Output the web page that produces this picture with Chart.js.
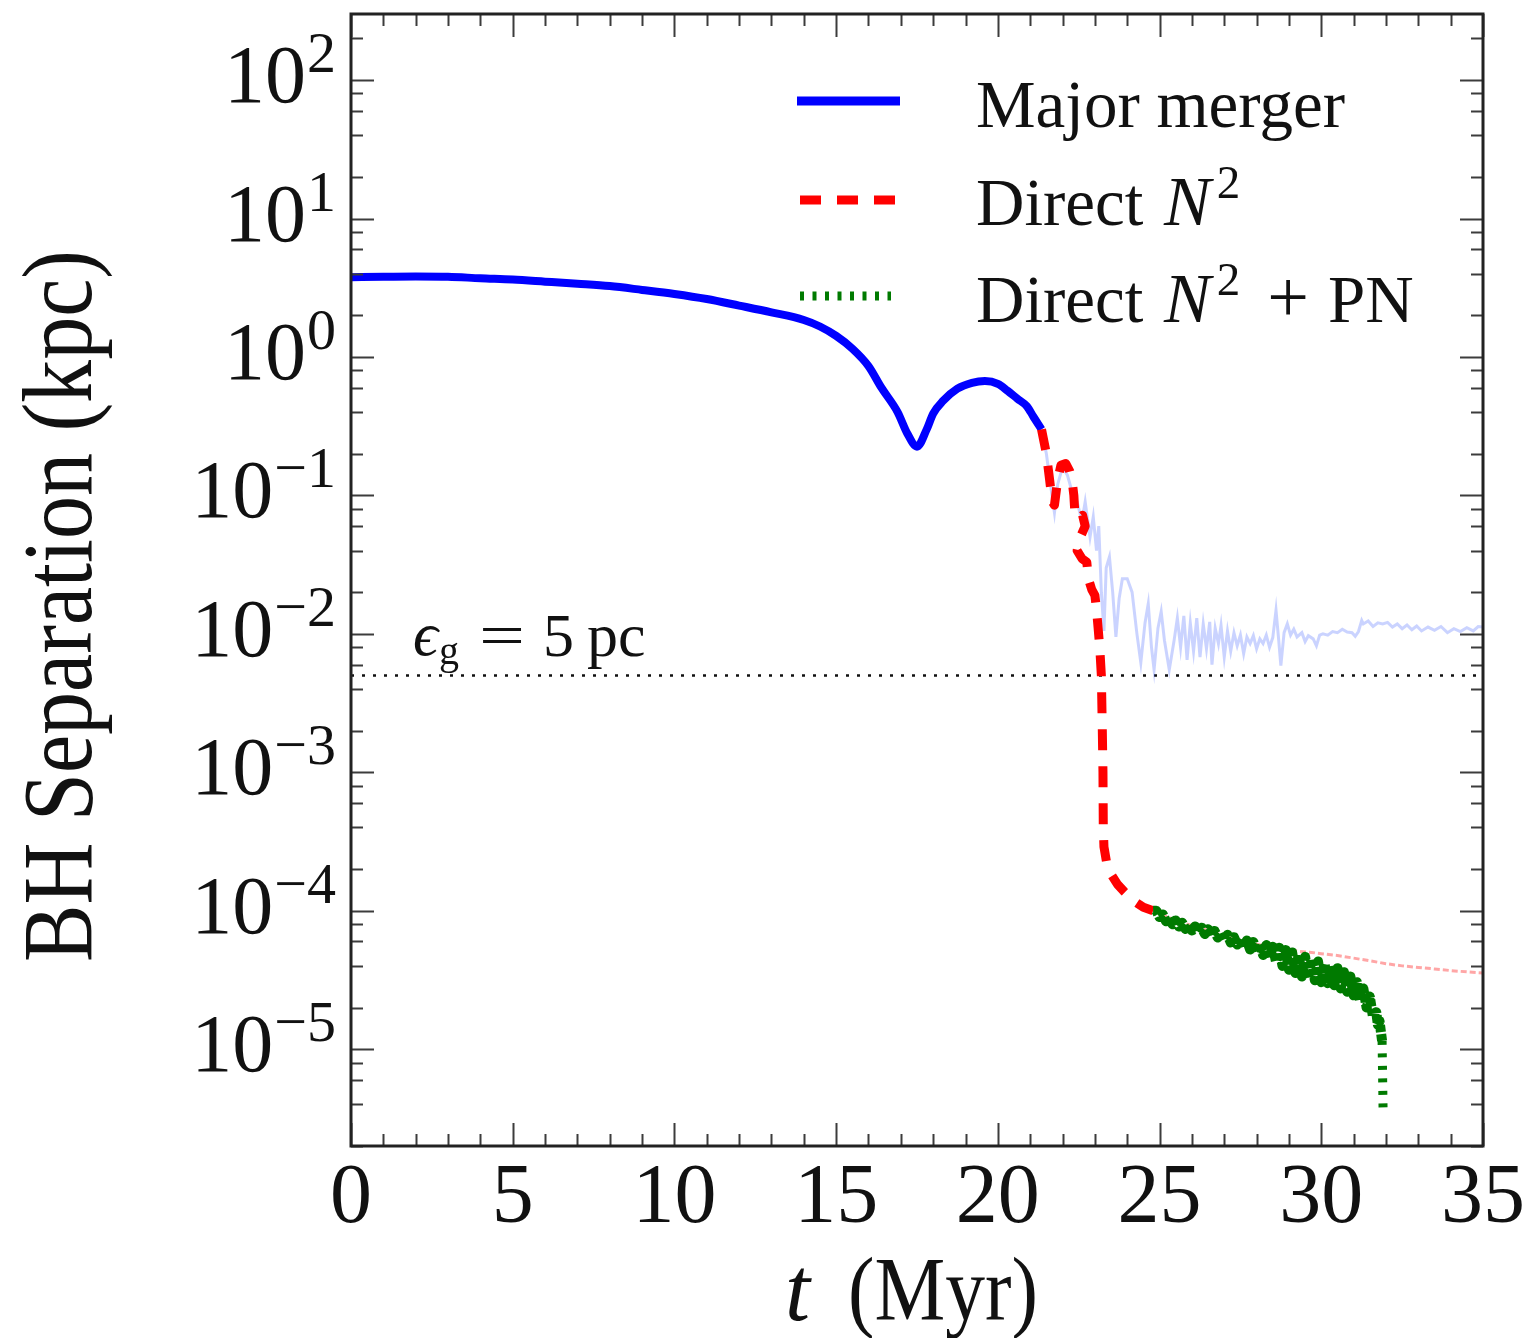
<!DOCTYPE html>
<html><head><meta charset="utf-8">
<script src="https://cdn.jsdelivr.net/npm/chart.js@4.4.1/dist/chart.umd.min.js"></script>
<style>html,body{margin:0;padding:0;background:#fff;}canvas{display:block;}</style>
</head><body>
<canvas id="c" width="1530" height="1338"></canvas>
<script>
// ---------- data ----------
const seriesNames = ['Major merger', 'Direct N\u00b2', 'Direct N\u00b2 + PN'];

const majorT = [0, 1, 2, 3, 4, 5, 6, 7, 8, 9, 10, 11, 12, 13, 14, 14.5, 15, 15.5, 16, 16.4, 16.9, 17.2, 17.5, 17.8, 18.0, 18.3, 18.75, 19.2, 19.6, 20.0, 20.3, 20.6, 20.9, 21.1, 21.35];
const majorV = [3.76, 3.8, 3.82, 3.8, 3.7, 3.62, 3.5, 3.38, 3.25, 3.05, 2.85, 2.62, 2.35, 2.1, 1.85, 1.66, 1.42, 1.15, 0.86, 0.6, 0.4, 0.28, 0.225, 0.3, 0.39, 0.48, 0.59, 0.65, 0.67, 0.64, 0.57, 0.5, 0.44, 0.37, 0.3];

const majorTailT = [21.35, 21.5, 21.65, 21.75, 21.85, 22.0, 22.15, 22.3, 22.45, 22.6, 22.7, 22.85, 22.95, 23.05, 23.12, 23.2, 23.28, 23.35, 23.45, 23.55, 23.65, 23.75, 23.85, 24.0, 24.15, 24.3, 24.42, 24.55, 24.65, 24.75, 24.83, 24.95, 25.05, 25.15, 25.3, 25.45, 25.55, 25.65, 25.75, 25.85, 25.95, 26.05, 26.15, 26.25, 26.35, 26.45, 26.55, 26.62, 26.72, 26.82, 26.9, 27.0, 27.1, 27.2, 27.3, 27.4, 27.5, 27.6, 27.7, 27.8, 27.9, 28.0, 28.1, 28.2, 28.3, 28.4, 28.5, 28.6, 28.68, 28.75, 28.85, 28.95, 29.05, 29.15, 29.25, 29.4, 29.5, 29.6, 29.75, 29.85, 29.95, 30.05, 30.2, 30.35, 30.5, 30.65, 30.8, 30.95, 31.05, 31.15, 31.25, 31.3, 31.45, 31.6, 31.75, 31.9, 32.05, 32.2, 32.35, 32.5, 32.65, 32.8, 32.95, 33.1, 33.3, 33.5, 33.7, 33.9, 34.1, 34.3, 34.5, 34.7, 34.85, 35.0];
const majorTailV = [0.3, 0.2, 0.11, 0.075, 0.12, 0.16, 0.14, 0.105, 0.09, 0.065, 0.09, 0.05, 0.07, 0.04, 0.06, 0.02, 0.0105, 0.03, 0.036, 0.02, 0.0095, 0.018, 0.025, 0.025, 0.02, 0.01, 0.0062, 0.012, 0.0165, 0.008, 0.0055, 0.011, 0.0145, 0.009, 0.0055, 0.009, 0.013, 0.008, 0.0135, 0.0065, 0.012, 0.0075, 0.013, 0.0068, 0.0118, 0.0078, 0.0122, 0.006, 0.011, 0.0085, 0.0115, 0.0068, 0.0105, 0.0075, 0.0102, 0.0082, 0.0098, 0.0072, 0.0095, 0.0085, 0.0097, 0.0078, 0.0092, 0.0085, 0.0098, 0.008, 0.0094, 0.0148, 0.0092, 0.0059, 0.0102, 0.0118, 0.0098, 0.0108, 0.0095, 0.0102, 0.0088, 0.0097, 0.0092, 0.0082, 0.0098, 0.01, 0.0098, 0.0104, 0.0102, 0.0108, 0.0103, 0.0102, 0.0096, 0.0104, 0.0125, 0.0118, 0.0124, 0.0113, 0.012, 0.0118, 0.0121, 0.0112, 0.0118, 0.0109, 0.0116, 0.0107, 0.0114, 0.0105, 0.0112, 0.0106, 0.0113, 0.0102, 0.0109, 0.0104, 0.0111, 0.0105, 0.0113, 0.0112];

const directT = [21.35, 21.5, 21.6, 21.68, 21.75, 21.85, 21.95, 22.1, 22.22, 22.3, 22.35, 22.38, 22.5, 22.62, 22.7, 22.55, 22.45, 22.6, 22.75, 22.8, 22.9, 23.0, 23.05, 23.1, 23.15, 23.2, 23.23, 23.25, 23.26, 23.28, 23.36, 23.48, 23.7, 23.9, 24.2, 24.5, 24.8];
const directV = [0.3, 0.2, 0.13, 0.09, 0.085, 0.13, 0.165, 0.17, 0.15, 0.125, 0.1, 0.075, 0.068, 0.072, 0.06, 0.05, 0.04, 0.035, 0.033, 0.025, 0.021, 0.019, 0.015, 0.011, 0.008, 0.005, 0.002, 0.001, 0.0004, 0.00029, 0.000225, 0.000187, 0.000155, 0.000138, 0.000118, 0.000106, 0.0001];

const directTailT = [24.8, 25.5, 26.5, 27.5, 28.5, 29.3, 29.7, 30.0, 30.5, 31.0, 31.5, 32.0, 32.5, 33.0, 33.5, 34.0, 34.5, 35.0];
const directTailV = [1.0e-4, 8.5e-5, 7.2e-5, 6.1e-5, 5.4e-5, 5.1e-5, 5.0e-5, 4.9e-5, 4.75e-5, 4.55e-5, 4.35e-5, 4.15e-5, 4.0e-5, 3.9e-5, 3.8e-5, 3.7e-5, 3.62e-5, 3.55e-5];

const pnT = [24.8, 24.9, 25.0, 25.1, 25.2, 25.3, 25.4, 25.5, 25.6, 25.7, 25.8, 25.9, 26.0, 26.1, 26.2, 26.3, 26.4, 26.5, 26.6, 26.7, 26.8, 26.9, 27.0, 27.1, 27.2, 27.3, 27.4, 27.5, 27.6, 27.7, 27.8, 27.9, 28.0, 28.1, 28.2, 28.3, 28.4, 28.5, 28.6, 28.7, 28.8, 28.9, 29.0, 29.1, 29.2, 29.3, 29.4, 29.5, 29.6, 29.7, 29.8, 29.9, 30.0, 30.1, 30.2, 30.3, 30.4, 30.5, 30.6, 30.7, 30.8, 30.9, 31.0, 31.1, 31.2, 31.3, 31.4, 31.5, 31.6, 31.7, 31.75, 31.8, 31.85, 31.88, 31.89, 31.9, 31.91];
const pnV = [1.0e-4, 1.0e-4, 9.0e-5, 9.4e-5, 8.4e-5, 8.9e-5, 8.0e-5, 8.5e-5, 7.7e-5, 8.2e-5, 7.4e-5, 7.9e-5, 7.2e-5, 7.7e-5, 7.0e-5, 7.55e-5, 6.8e-5, 7.35e-5, 6.6e-5, 7.15e-5, 6.4e-5, 6.95e-5, 6.15e-5, 6.7e-5, 5.9e-5, 6.45e-5, 5.7e-5, 6.3e-5, 5.45e-5, 6.1e-5, 5.25e-5, 5.95e-5, 5.0e-5, 5.8e-5, 4.8e-5, 5.65e-5, 4.55e-5, 5.5e-5, 4.3e-5, 5.4e-5, 4.0e-5, 5.2e-5, 3.75e-5, 5.0e-5, 3.55e-5, 4.8e-5, 3.35e-5, 4.65e-5, 3.25e-5, 4.45e-5, 3.15e-5, 4.3e-5, 3.05e-5, 4.15e-5, 3.0e-5, 4.0e-5, 2.9e-5, 3.85e-5, 2.75e-5, 3.6e-5, 2.6e-5, 3.35e-5, 2.45e-5, 3.05e-5, 2.25e-5, 2.75e-5, 2.0e-5, 2.4e-5, 1.7e-5, 1.85e-5, 1.5e-5, 1.6e-5, 1.3e-5, 1.15e-5, 8e-6, 5.5e-6, 3.7e-6];
const pnTailStart = 31.88;

const softeningValue = 0.005;      // 5 pc in kpc
const xRange = [0, 35];
const yRange = [2e-6, 300];
const xMajorTicks = [0, 5, 10, 15, 20, 25, 30, 35];
const xTickLabels = ['0', '5', '10', '15', '20', '25', '30', '35'];
const yMajorTicks = [1e2, 1e1, 1e0, 1e-1, 1e-2, 1e-3, 1e-4, 1e-5];
const yTickExponents = ['2', '1', '0', '\u22121', '\u22122', '\u22123', '\u22124', '\u22125'];
const yMinorMantissas = [2, 4, 6, 8];

function pts(ts, vs) { return ts.map((t, i) => ({ x: t, y: vs[i] })); }

const SERIF = '"Liberation Serif", "DejaVu Serif", serif';

function fitText(ctx, text, x, y, font, targetW, align) {
  ctx.font = font;
  const w = ctx.measureText(text).width;
  const sx = targetW ? targetW / w : 1;
  ctx.save();
  ctx.translate(x, y);
  ctx.scale(sx, 1);
  ctx.textAlign = align || 'left';
  ctx.fillText(text, 0, 0);
  ctx.restore();
}

const decorPlugin = {
  id: 'decor',
  afterDraw(chart) {
    const ctx = chart.ctx, xs = chart.scales.x, ys = chart.scales.y, a = chart.chartArea;
    ctx.save();
    // inward ticks on all four sides
    ctx.strokeStyle = '#3c3c3c';
    ctx.lineWidth = 2;
    ctx.beginPath();
    for (let v = xRange[0]; v <= xRange[1]; v++) {
      const px = Math.round(xs.getPixelForValue(v)) + 0.5;
      const len = xMajorTicks.includes(v) ? 23 : 12;
      ctx.moveTo(px, a.bottom); ctx.lineTo(px, a.bottom - len);
      ctx.moveTo(px, a.top); ctx.lineTo(px, a.top + len);
    }
    for (let k = -6; k <= 2; k++) {
      [1].concat(yMinorMantissas).forEach(m => {
        const v = m * Math.pow(10, k);
        if (v < yRange[0] * 0.999 || v > yRange[1] * 1.001) return;
        const py = Math.round(ys.getPixelForValue(v)) + 0.5;
        const len = m === 1 ? 23 : 12;
        ctx.moveTo(a.left, py); ctx.lineTo(a.left + len, py);
        ctx.moveTo(a.right, py); ctx.lineTo(a.right - len, py);
      });
    }
    ctx.stroke();
    // frame
    ctx.strokeStyle = '#222';
    ctx.lineWidth = 3;
    ctx.strokeRect(a.left, a.top, a.right - a.left, a.bottom - a.top);

    ctx.fillStyle = '#111';
    ctx.textBaseline = 'alphabetic';
    // x tick labels
    ctx.font = '84px ' + SERIF;
    ctx.textAlign = 'center';
    xMajorTicks.forEach((v, i) => ctx.fillText(xTickLabels[i], xs.getPixelForValue(v), a.bottom + 76));
    // y tick labels 10^k
    const right = a.left - 15;
    yMajorTicks.forEach((v, i) => {
      const py = ys.getPixelForValue(v);
      ctx.font = '58px ' + SERIF;
      const sw = ctx.measureText(yTickExponents[i]).width;
      ctx.font = '82px ' + SERIF;
      const mw = ctx.measureText('10').width;
      const x0 = right - sw - mw - 1;
      ctx.textAlign = 'left';
      ctx.fillText('10', x0, py + 22);
      ctx.font = '58px ' + SERIF;
      ctx.fillText(yTickExponents[i], x0 + mw + 1, py - 8);
    });
    // axis titles
    ctx.save();
    ctx.translate(91, (a.top + a.bottom) / 2 + 26);
    ctx.rotate(-Math.PI / 2);
    fitText(ctx, 'BH Separation (kpc)', 0, 0, '100px ' + SERIF, 712, 'center');
    ctx.restore();
    ctx.font = 'italic 90px ' + SERIF;
    ctx.textAlign = 'left';
    ctx.fillText('t', 785, 1320);
    fitText(ctx, '(Myr)', 848, 1320, '90px ' + SERIF, 190, 'left');

    // softening annotation
    ctx.font = 'italic 62px ' + SERIF;
    ctx.fillText('\u03f5', 413, 655);
    ctx.font = '40px ' + SERIF;
    ctx.fillText('g', 439, 664);
    fitText(ctx, '=', 479, 656, '62px ' + SERIF, 46, 'left');
    ctx.font = '62px ' + SERIF;
    ctx.fillText('5', 543, 656);
    ctx.fillText('pc', 587, 656);

    // legend
    const ds = chart.data.datasets;
    const rows = [
      { d: ds[2], x1: 797, x2: 900, y: 101, dash: [] },
      { d: ds[1], x1: 800, x2: 895, y: 200, dash: ds[1].borderDash },
      { d: ds[0], x1: 800, x2: 891, y: 296, dash: [4, 8.5] }
    ];
    rows.forEach(r => {
      ctx.save();
      ctx.strokeStyle = r.d.borderColor;
      ctx.lineWidth = 9;
      ctx.setLineDash(r.dash);
      ctx.lineCap = 'butt';
      ctx.beginPath(); ctx.moveTo(r.x1, r.y); ctx.lineTo(r.x2, r.y); ctx.stroke();
      ctx.restore();
    });
    ctx.fillStyle = '#111';
    ctx.textAlign = 'left';
    ctx.font = '67px ' + SERIF;
    ctx.fillText('Major merger', 976, 127);
    [225, 322].forEach((b, i) => {
      ctx.font = '67px ' + SERIF;
      ctx.fillText('Direct', 976, b);
      ctx.font = 'italic 70px ' + SERIF;
      ctx.fillText('N', 1164, b);
      const nw = ctx.measureText('N').width;
      ctx.font = '47px ' + SERIF;
      ctx.fillText('2', 1164 + nw + 6, b - 27);
      if (i === 1) {
        ctx.font = '74px ' + SERIF;
        ctx.textAlign = 'center';
        ctx.fillText('+', 1288, b);
        ctx.textAlign = 'left';
        ctx.font = '67px ' + SERIF;
        ctx.fillText('PN', 1328, b);
      }
    });
    ctx.restore();
  }
};

new Chart(document.getElementById('c'), {
  type: 'line',
  data: {
    datasets: [
      { label: seriesNames[2], data: pts(pnT, pnV), borderColor: '#007a00', borderWidth: 10, borderDash: [7, 2], pointRadius: 0, tension: 0, borderJoinStyle: 'round', order: 0,
        segment: { borderDash: c => (c.p0.parsed.x >= pnTailStart ? [4, 8.5] : undefined), borderWidth: c => (c.p0.parsed.x >= pnTailStart ? 9 : undefined) } },
      { label: seriesNames[1], data: pts(directT, directV), borderColor: '#ff0000', borderWidth: 9, borderDash: [21, 16], pointRadius: 0, tension: 0, borderJoinStyle: 'round', order: 1 },
      { label: seriesNames[0], data: pts(majorT, majorV), borderColor: '#0000ff', borderWidth: 8, pointRadius: 0, cubicInterpolationMode: 'monotone', borderJoinStyle: 'round', order: 2 },
      { label: seriesNames[1] + ' (no PN)', data: pts(directTailT, directTailV), borderColor: 'rgba(255,0,0,0.35)', borderWidth: 3, borderDash: [6, 3], pointRadius: 0, tension: 0, order: 3 },
      { label: seriesNames[0] + ' (continued)', data: pts(majorTailT, majorTailV), borderColor: 'rgba(80,110,255,0.3)', borderWidth: 3, pointRadius: 0, tension: 0, order: 4 },
      { label: 'softening 5 pc', data: [{ x: xRange[0], y: softeningValue }, { x: xRange[1], y: softeningValue }], borderColor: '#111', borderWidth: 2.5, borderDash: [3, 8], pointRadius: 0, order: 5 }
    ]
  },
  options: {
    responsive: false,
    animation: false,
    devicePixelRatio: 1,
    layout: { padding: { left: 351, top: 14, right: 47, bottom: 192 } },
    plugins: { legend: { display: false }, tooltip: { enabled: false } },
    scales: {
      x: { type: 'linear', min: xRange[0], max: xRange[1], display: false },
      y: { type: 'logarithmic', min: yRange[0], max: yRange[1], display: false }
    }
  },
  plugins: [decorPlugin]
});
</script>
</body></html>
